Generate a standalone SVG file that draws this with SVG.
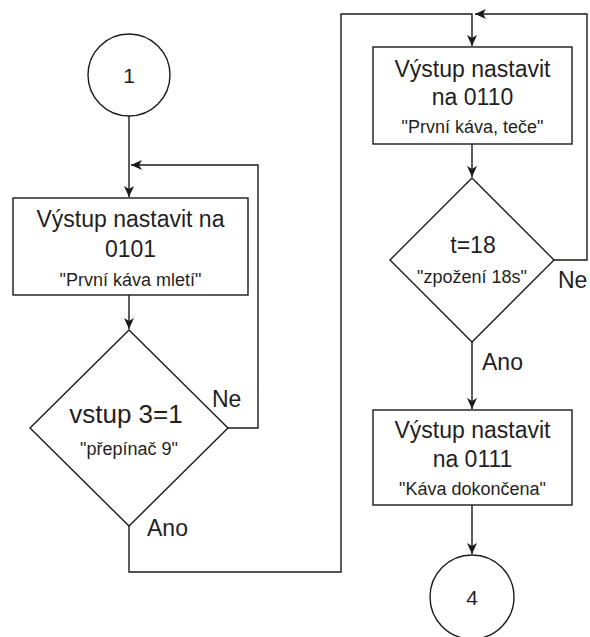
<svg xmlns="http://www.w3.org/2000/svg" width="590" height="637" viewBox="0 0 590 637">
  <style>
    .shape { fill: #ffffff; stroke: #1a1a1a; stroke-width: 1.4; }
    .edge { fill: none; stroke: #1a1a1a; stroke-width: 1.4; }
    text { font-family: "Liberation Sans", Arial, sans-serif; fill: #1f1f1f; text-anchor: middle; }
    .big { font-size: 23px; }
    .dec { font-size: 26px; }
    .small { font-size: 18px; }
    .lbl { font-size: 23px; text-anchor: start; }
    .num { font-size: 21px; }
  </style>
  <defs>
    <marker id="arrow" markerUnits="userSpaceOnUse" markerWidth="12" markerHeight="10" refX="11" refY="5" orient="auto">
      <path d="M0,0 L11,5 L0,10 L3,5 z" fill="#1a1a1a"/>
    </marker>
  </defs>
  <rect width="590" height="637" fill="#ffffff"/>

  <!-- connectors -->
  <g id="connectors">
    <path class="edge" d="M129,116 V197" marker-end="url(#arrow)"/>
    <path class="edge" d="M129,295 V329" marker-end="url(#arrow)"/>
    <path class="edge" d="M228,428 H258 V165 H131" marker-end="url(#arrow)"/>
    <path class="edge" d="M129,526 V572 H341 V14 H472 V46" marker-end="url(#arrow)"/>
    <path class="edge" d="M554,260 H587 V14 H475" marker-end="url(#arrow)"/>
    <path class="edge" d="M472,144 V177" marker-end="url(#arrow)"/>
    <path class="edge" d="M472,342 V409" marker-end="url(#arrow)"/>
    <path class="edge" d="M472,505 V554" marker-end="url(#arrow)"/>
    <text class="lbl" x="212" y="407">Ne</text>
    <text class="lbl" x="147" y="536">Ano</text>
    <text class="lbl" x="558" y="288">Ne</text>
    <text class="lbl" x="482" y="370">Ano</text>
  </g>

  <!-- start connector 1 -->
  <g id="start1">
    <circle class="shape" cx="129" cy="75" r="41"/>
    <text class="num" x="129" y="83">1</text>
  </g>

  <!-- set output 0101 -->
  <g id="out0101">
    <rect class="shape" x="13" y="198" width="235" height="97"/>
    <text class="big" x="130.5" y="227">Výstup nastavit na</text>
    <text class="big" x="130.5" y="257">0101</text>
    <text class="small" x="130.5" y="286">"První káva mletí"</text>
  </g>

  <!-- input 3 decision -->
  <g id="vstup3">
    <polygon class="shape" points="129,330 228,428 129,526 30,428"/>
    <text class="dec" x="126" y="423">vstup 3=1</text>
    <text class="small" x="129" y="455">"přepínač 9"</text>
  </g>

  <!-- set output 0110 -->
  <g id="out0110">
    <rect class="shape" x="373" y="47" width="199" height="97"/>
    <text class="big" x="472.5" y="77">Výstup nastavit</text>
    <text class="big" x="472.5" y="105">na 0110</text>
    <text class="small" x="472.5" y="133">"První káva, teče"</text>
  </g>

  <!-- 18 s delay decision -->
  <g id="t18">
    <polygon class="shape" points="472,178 554,260 472,342 390,260"/>
    <text class="big" x="473" y="253">t=18</text>
    <text class="small" x="472" y="283">"zpožení 18s"</text>
  </g>

  <!-- set output 0111 -->
  <g id="out0111">
    <rect class="shape" x="373" y="410" width="199" height="95"/>
    <text class="big" x="472.5" y="438">Výstup nastavit</text>
    <text class="big" x="472.5" y="467">na 0111</text>
    <text class="small" x="472.5" y="495">"Káva dokončena"</text>
  </g>

  <!-- end connector 4 -->
  <g id="end4">
    <circle class="shape" cx="472" cy="597" r="42"/>
    <text class="num" x="472" y="605">4</text>
  </g>
</svg>
